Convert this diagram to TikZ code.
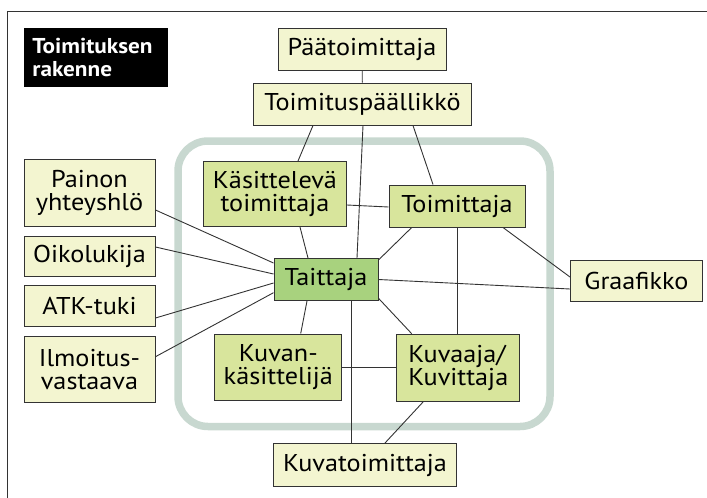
\documentclass[tikz,border=0pt]{standalone}
\usepackage{fontspec}
\setmainfont[FakeStretch=1.08]{PT Sans}
\usepackage{tikz}
\definecolor{paleyellow}{HTML}{F3F5D0}
\definecolor{midgreen}{HTML}{D8E59C}
\definecolor{hubgreen}{HTML}{A8D27E}
\definecolor{framegray}{HTML}{C8D8D0}
\definecolor{edgegray}{HTML}{333333}
\tikzset{
  outerbox/.style={%
    draw=edgegray,
    line width=1pt,
    fill=paleyellow,
    inner sep=0,
    align=center,
    font=\fontsize{24.3}{23}\selectfont,
  },
  innerbox/.style={outerbox, fill=midgreen},
  hubbox/.style={outerbox, fill=hubgreen},
  link/.style={edgegray, line width=0.9pt},
}
\newcommand\RoleBox[5]{% name, x, y, width, height
  \node (#1) [minimum width=#4pt, minimum height=#5pt] at (#2,#3)
}

\begin{document}
\begin{tikzpicture}[x=1pt,y=-1pt]
    \useasboundingbox (0,0) rectangle (707,498);
    \draw [edgegray, line width=1pt] (7,498) -- (7,11) -- (707,11);
    \node (title) [anchor=north west, fill=black, text=white,
        minimum width=144pt, minimum height=59pt, inner xsep=8.5pt,
        text width=127pt, align=left,
        font=\fontsize{21.5}{23.3}\selectfont\bfseries] at (23.7,27.7)
        {Toimituksen\\rakenne};
    % core group
    \draw [framegray, line width=7.5pt, rounded corners=30pt]
        (178,141) rectangle (550,426.5);

    \RoleBox{paa}{362}{49}{168}{42} [outerbox] {Päätoimittaja};
    \RoleBox{toimp}{362.5}{104}{218}{42} [outerbox] {Toimituspäällikkö};
    \RoleBox{painon}{89.5}{192.7}{131}{67} [outerbox] {Painon\\yhteyshlö};
    \RoleBox{oiko}{89.5}{256}{131}{40} [outerbox] {Oikolukija};
    \RoleBox{atk}{89.5}{306}{131}{41} [outerbox] {ATK-tuki};
    \RoleBox{ilmo}{89.5}{369.5}{131}{66} [outerbox] {Ilmoitus-\\vastaava};
    \RoleBox{kasit}{275}{194}{143}{65} [innerbox] {Käsittelevä\\toimittaja};
    \RoleBox{toim}{457}{206}{136}{42} [innerbox] {Toimittaja};
    \RoleBox{taitt}{326}{279.5}{104}{42} [hubbox] {Taittaja};
    \RoleBox{kuvan}{278.3}{367}{127}{66} [innerbox] {Kuvan-\\käsittelijä};
    \RoleBox{kuvaaja}{458.3}{367.7}{123}{67} [innerbox, align=left] {Kuvaaja/\\Kuvittaja};
    \RoleBox{graaf}{636.5}{281}{132}{41} [outerbox] {Graafikko};
    \RoleBox{kuvat}{365}{465}{183}{43} [outerbox] {Kuvatoimittaja};

    \draw [link] (paa) -- (toimp);
    \draw [link] ([xshift=-49.5pt]toimp.south) -- ([xshift=23pt]kasit.north);
    \draw [link] ([xshift=0.5pt]toimp.south) -- ([xshift=31pt]taitt.north);
    \draw [link] ([xshift=50.5pt]toimp.south) -- ([xshift=-24pt]toim.north);
    \draw [link] ([yshift=-11pt]kasit.east) -- ([yshift=-1pt]toim.west);
    \draw [link] ([yshift=-17.3pt]painon.east) -- ([yshift=16.5pt]taitt.west);
    \draw [link] ([yshift=9pt]oiko.east) -- ([yshift=5.5pt]taitt.west);
    \draw [link] ([yshift=-12pt]atk.east) -- ([yshift=-3.5pt]taitt.west);
    \draw [link] ([yshift=12.8pt]ilmo.east) -- ([yshift=-13.2pt]taitt.west);
    \draw [link] ([xshift=25pt]kasit.south) -- ([xshift=-18pt]taitt.north);
    \draw [link] ([xshift=-19pt]taitt.south) -- ([xshift=22.4pt]kuvan.north);
    \draw [link] (kuvan.east) -- (kuvan.east -| kuvaaja.west);
    \draw [link] ([xshift=25.7pt]taitt.south) -- ([xshift=25.7pt]taitt.south |- kuvat.north);
    \draw [link] ([yshift=-2pt]taitt.north east) -- ([xshift=-45.3pt]toim.south);
    \draw [link] ([xshift=0.3pt]toim.south) -- ([xshift=0.3pt]toim.south |- kuvaaja.north);
    \draw [link] ([xshift=46pt]toim.south) -- ([yshift=4pt]graaf.west);
    \draw [link] (taitt.east) -- ([yshift=-8pt]graaf.west);
    \draw [link] ([yshift=2.7pt]taitt.south east) -- ([xshift=-46.6pt]kuvaaja.north);
    \draw [link] ([xshift=-35pt]kuvaaja.south) -- ([xshift=20pt]kuvat.north);
\end{tikzpicture}
\end{document}
